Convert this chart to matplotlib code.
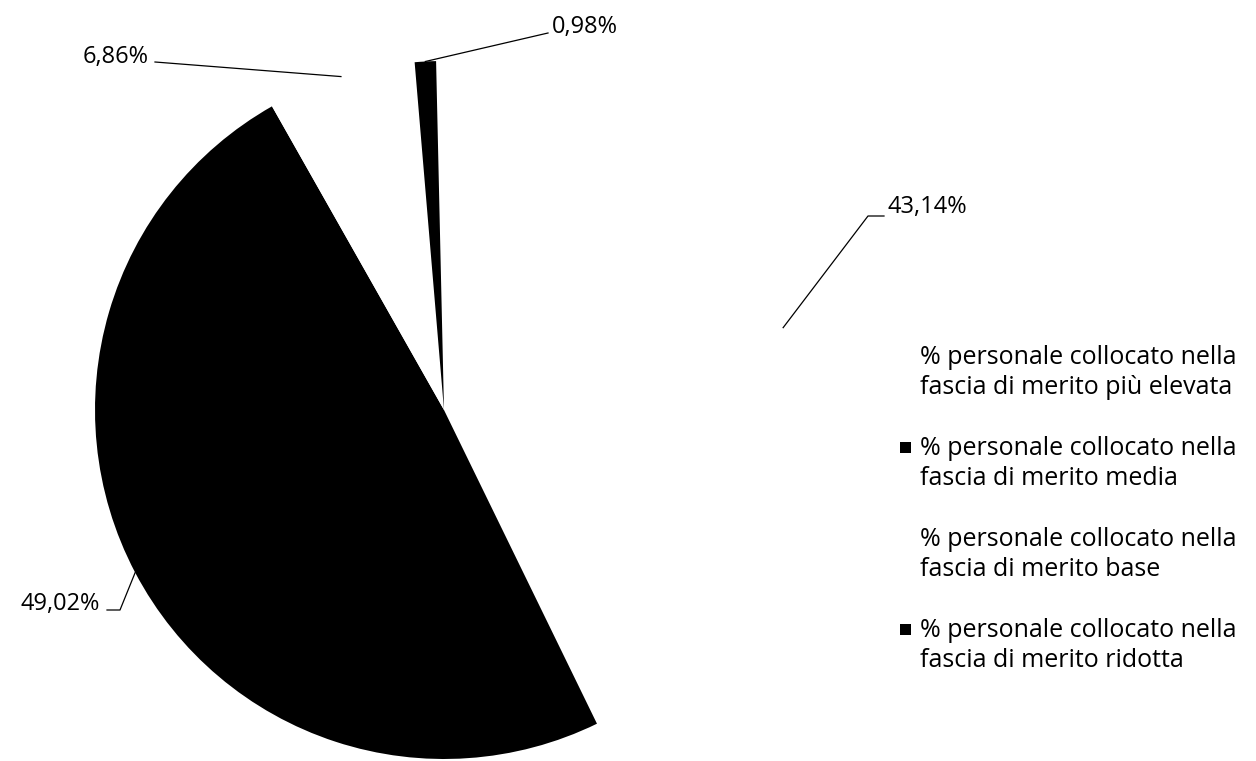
import matplotlib.pyplot as plt
import numpy as np
from matplotlib.patches import Rectangle

plt.rcParams['font.family'] = ['Open Sans', 'DejaVu Sans']

# data
fasce = ['% personale collocato nella\nfascia di merito più elevata',
         '% personale collocato nella\nfascia di merito media',
         '% personale collocato nella\nfascia di merito base',
         '% personale collocato nella\nfascia di merito ridotta']
quote = [43.14, 49.02, 6.86, 0.98]
colori = ['white', 'black', 'white', 'black']

W, H = 1256, 761
fig = plt.figure(figsize=(W / 100, H / 100), dpi=100)
ax = fig.add_axes([0, 0, 1, 1])

cx, cy, r = 444, H - 410, 349
wedges, _ = ax.pie(quote, colors=colori, startangle=91.3, counterclock=False,
                   center=(cx, cy), radius=r, wedgeprops=dict(linewidth=0))
ax.set_xlim(0, W)
ax.set_ylim(0, H)
ax.set_aspect('equal')
ax.axis('off')

# leader lines: (elbow, end of line, text anchor, ha) in pixel coords, y from the top
layout = [((868, 216), (884, 216), (887, 213), 'left'),
          ((120, 610), (107, 610), (100, 610), 'right'),
          (None, (155, 62), (149, 63), 'right'),
          (None, (548, 33), (552, 33), 'left')]

for w, v, (elbow, end, txt, ha) in zip(wedges, quote, layout):
    theta = np.radians((w.theta1 + w.theta2) / 2)
    xs = [cx + r * np.cos(theta)]
    ys = [cy + r * np.sin(theta)]
    if elbow is not None:
        xs.append(elbow[0])
        ys.append(H - elbow[1])
    xs.append(end[0])
    ys.append(H - end[1])
    ax.plot(xs, ys, color='black', lw=0.9)
    label = ('%.2f%%' % v).replace('.', ',')
    ax.text(txt[0], H - txt[1], label, ha=ha, va='baseline', fontsize=17, color='black')

# legend drawn by hand so the marker sits next to the first line of each entry
# (va='baseline' on two-line text anchors the second line, hence the +31)
for i, (nome, col) in enumerate(zip(fasce, colori)):
    base = 363 + 91 * i
    ax.add_patch(Rectangle((900, H - base + 1), 11, 11, facecolor=col, edgecolor='none'))
    ax.text(920, H - base - 31, nome, ha='left', va='baseline', fontsize=18,
            color='black', linespacing=1.24)

fig.savefig('out.png', dpi=100)
